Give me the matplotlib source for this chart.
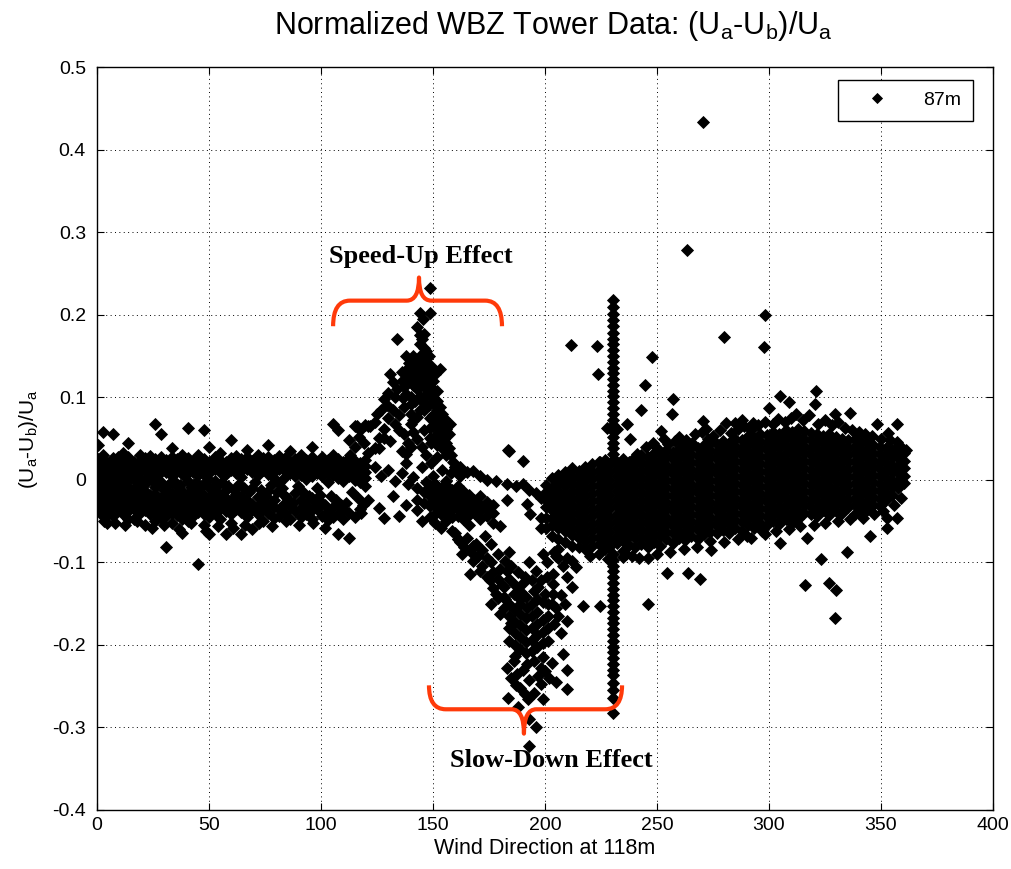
import matplotlib.pyplot as plt
import numpy as np
from matplotlib.path import Path
from matplotlib.patches import PathPatch

# (Ua-Ub)/Ua values below are stored in thousandths, grouped by wind direction (deg)

# 0-120 deg: two narrow bands just above and below zero
west_band = [
    (0.5, [42, 25, 18, 12, 5, -3, -12, -20, -28]),
    (2.5, [58, 30, 22, 15, 8, 0, -8, -16, -24, -35]),
    (4.6, [20, 13, 6, -2, -10, -18, -26, -38, -52]),
    (7.0, [55, 26, 19, 12, 4, -6, -14, -22, -30, -44]),
    (9.4, [28, 21, 14, 7, -12, -20, -28, -36]),
    (11.8, [33, 24, 16, 9, -8, -17, -25, -33, -41]),
    (14.0, [45, 27, 20, 12, 3, -14, -22, -30, -38, -47]),
    (16.5, [22, 15, 8, -10, -19, -27, -35, -48]),
    (19.0, [30, 23, 16, 9, 1, -16, -24, -32, -40]),
    (21.3, [26, 19, 12, -5, -13, -21, -29, -37, -55]),
    (23.8, [29, 22, 15, 7, -18, -26, -34, -42]),
    (26.0, [68, 25, 18, 11, 3, -9, -17, -25, -33, -41, -50]),
    (28.5, [55, 28, 21, 14, -3, -22, -30, -38, -46]),
    (31.0, [24, 17, 10, -12, -20, -28, -36, -44, -81]),
    (33.4, [38, 27, 20, 13, 5, -16, -24, -32, -40, -52]),
    (35.7, [25, 18, 11, -8, -19, -27, -35, -43]),
    (38.0, [30, 22, 15, 7, -14, -22, -30, -38, -47, -64]),
    (40.5, [63, 26, 19, 12, -2, -17, -25, -33, -41, -50]),
    (43.0, [23, 16, 9, -11, -20, -28, -36, -44]),
    (45.3, [30, 21, 14, 6, -15, -23, -31, -39, -102]),
    (47.7, [60, 25, 18, 11, -5, -18, -26, -34, -42, -55]),
    (50.0, [40, 22, 15, 8, -9, -21, -29, -37, -45, -66]),
    (52.5, [27, 20, 13, -2, -14, -24, -32, -40]),
    (55.0, [32, 24, 17, 10, -19, -27, -35, -48]),
    (57.4, [21, 14, 7, -12, -22, -30, -38, -66]),
    (59.8, [48, 26, 19, 12, -25, -33, -41, -52]),
    (62.0, [29, 23, 16, 8, -17, -28, -36]),
    (64.5, [25, 18, 11, 3, -20, -31, -39, -66]),
    (67.0, [36, 27, 20, 13, -24, -34, -45]),
    (69.3, [23, 16, 9, -10, -29, -37, -60]),
    (71.8, [30, 21, 14, 6, -21, -32, -42]),
    (74.0, [26, 19, 12, -27, -35, -50]),
    (76.5, [42, 28, 22, 15, 7, -14, -30, -40]),
    (79.0, [24, 17, 10, 2, -25, -33, -46]),
    (81.4, [29, 20, 13, -4, -36, -44]),
    (83.8, [26, 18, 11, 3, -20, -28, -40]),
    (86.0, [35, 22, 15, 8, -32, -47]),
    (88.5, [25, 19, 12, 4, -16, -38]),
    (91.0, [30, 21, 14, 6, -24, -34, -45]),
    (93.4, [24, 17, 10, 1, -30, -42]),
    (95.8, [40, 27, 19, 12, 4, -22, -37, -48]),
    (98.0, [22, 15, 8, -10, -35]),
    (100.5, [28, 20, 13, 5, -28, -44]),
    (103.0, [24, 17, 9, -3, -38, -49]),
    (105.4, [68, 30, 21, 14, 6, -33, -45]),
    (107.8, [60, 25, 18, 11, 2, -42, -66]),
    (110.0, [22, 15, 8, -1, -36, -48]),
    (112.5, [48, 26, 19, 12, 4, -40, -70]),
    (115.0, [65, 23, 16, 9, 0, -45]),
    (117.3, [60, 20, 13, 5, -3, -35]),
    (119.8, [66, 24, 17, 10, 2, -8]),
]
west_fill_pts = [
    (1.5, -40), (3.5, -45), (5.8, -30), (8.2, 0), (10.6, -2), (13, -6), (15.3, 2),
    (17.8, -3), (20, -8), (22.5, 3), (25, -2), (27.3, 6), (29.7, -12), (32, -5),
    (34.5, -2), (37, -6), (39.3, 4), (41.8, -9), (44, -3), (46.5, -8), (49, 2),
    (51.3, -12), (53.8, -6), (56, -3), (58.6, -8), (61, -12), (63.3, -5), (65.8, -10),
    (68, -15), (70.5, -3), (73, -12), (75.3, -20), (77.8, -6), (80.2, -15), (82.6, -10),
    (85, -22), (87.3, -28), (89.8, -8), (92, -15), (94.6, -20), (97, -26), (99.4, -18),
    (102, -30), (104.3, -20), (106.7, -25), (109, -30), (111.3, -28), (114, -15),
    (116.3, -22), (118.7, -30),
    (3, -50), (8, -52), (12.5, -55), (18, -50), (24.5, -58), (30, -55), (36.5, -60),
    (42, -52), (48.5, -62), (54, -56), (60.5, -58), (66, -55), (72.5, -52), (78, -56),
    (84.5, -50), (90, -55), (96.5, -52), (102, -58),
]

# 110-200 deg: the bump up to +0.23 and the loose points around zero
speedup_pts = [
    (113, 30), (115, 40), (117, 52), (119, 45), (121, 33), (122, 65), (124, 38),
    (126, 51), (126, 39), (128, 98), (128, 51), (129.5, 90), (131, 47), (131, 128),
    (132, 118), (134, 110), (134, 171), (136.6, 99), (138, 31), (140, 92), (140, 80),
    (140, 68), (144, 84), (144, 202), (144, 165), (145.5, 195), (146, 177), (147, 156),
    (148.7, 232), (148.7, 202), (148.7, 75), (148.7, 63), (148.7, 51), (151.8, 84),
    (151.8, 70), (151.8, 56), (151.8, 42), (151.8, 27), (153, 134), (157.6, 68),
    (138, 150), (139.5, 142), (141, 150), (140, 133), (142, 125), (143, 140), (144, 150),
    (145, 132), (146, 143), (147, 125), (141, 115), (143, 110), (145, 118), (148, 112),
    (150, 120), (149, 138), (151, 128), (139, 122), (137, 112), (136, 130), (147, 103),
    (150, 100), (152, 108), (138, 104), (140, 100), (142, 96), (145, 95), (148, 90),
    (146, 85), (143, 76), (141, 72), (150, 78), (153, 62), (155, 50), (154, 38),
    (156, 30), (150, 65), (149, 44), (116, 65), (121, 65), (132, 85), (135, 78),
    (137, 88), (146, 60), (152, 50), (155, 75), (153, 65), (155, 55), (156, 45),
    (157, 38), (158, 30), (159, 22), (160, 16), (161, 10), (162, 15),
    (139, 135), (141, 128), (143, 120), (145, 145), (147, 135), (149, 128), (146, 112),
    (144, 102), (142, 138), (140, 118), (138, 128), (136, 120), (144, 132), (147, 147),
    (146, 160), (144, 175), (143, 185), (145, 170), (148, 150), (150, 110), (152, 95),
    (151, 90), (149, 100), (153, 88), (154, 80), (152, 72), (156, 62), (157, 55),
    (154, 70), (133, 100), (130, 105), (127, 85), (125, 80), (124, 70), (130, 75),
    (133, 68), (128, 62), (135, 60), (137, 55), (139, 45), (141, 58), (143, 50),
    (145, 40), (147, 30), (149, 20), (140, 40), (136, 35),
    (124, 15), (127, 5), (130, 12), (133, -2), (136, 8), (138, 20), (139, -5),
    (141, 3), (143, -10), (145, 15), (147, -3), (150, 5), (152, -8), (154, 12),
    (156, -2), (158, 8), (160, 15), (162, 5), (165, 10), (168, 11), (171, 5),
    (174, 0), (178, -1), (183, -5), (187, -8), (190, -5), (193, -12), (196, -16),
    (198, -22), (183, -25), (192, -29), (193.3, -41), (198, -46), (198, -58),
    (180, -56), (184, 35), (190, 23), (183.5, 36),
    (148.7, -29), (143, -37), (145, -50), (135, -44), (128, -46), (126, -34),
    (143, -25), (138, -30), (132, -20), (121, -25), (118, -40),
]

# 146-180 deg: small cluster just below zero
shelf_band = [
    (146.0, [-15, -28]),
    (148.5, [-8, -20, -32, -45]),
    (151.0, [-5, -14, -23, -32, -41, -52]),
    (153.5, [-10, -18, -26, -34, -42, -58]),
    (156.0, [-6, -15, -24, -33, -42, -50]),
    (158.5, [-12, -20, -28, -36, -45, -62]),
    (161.0, [-8, -17, -26, -35, -44, -72]),
    (163.5, [-14, -22, -30, -38, -48]),
    (166.0, [-19, -27, -35, -43, -55]),
    (168.5, [-24, -32, -40, -80]),
    (171.0, [-20, -30, -38, -47]),
    (174.0, [-27, -36, -44]),
    (177.0, [-30, -40, -52]),
]

# 160-212 deg: the dip down to -0.3
slowdown_band = [
    (181.5, [-130, -142, -155]),
    (184.0, [-150, -165, -180, -195, -120]),
    (186.5, [-158, -172, -186, -200, -214, -128]),
    (189.0, [-145, -162, -176, -190, -205, -135]),
    (191.5, [-168, -182, -196, -210, -142]),
    (194.0, [-150, -165, -180, -194, -208]),
    (196.5, [-160, -175, -188, -202, -145]),
    (199.0, [-148, -170, -184, -198, -215]),
    (201.5, [-165, -180, -195, -150]),
]
slowdown_pts = [
    (161, -72), (164, -82), (168, -80), (166.5, -114), (168, -98), (172, -104),
    (176, -100), (180, -108), (183, -110), (184, -88), (175.4, -122), (177, -131),
    (179, -143), (180, -162), (186, -138), (189, -150), (192, -155), (185, -173),
    (198, -122), (201, -118), (203.6, -114), (203.6, -126), (203.6, -138), (210, -118),
    (205, -155), (210, -171), (207, -186), (208, -211), (183, -228), (187.5, -235),
    (192, -223), (198, -228), (193, -243), (198, -247), (210, -231), (210, -253),
    (183.5, -264), (192.5, -265), (189, -252), (193, -290), (193, -323), (196, -300),
    (185, -240), (188, -275), (195, -258), (200, -232), (202, -240),
    (206, -95), (208, -105), (212, -98), (204, -88), (201, -100), (199, -90),
    (196, -110), (193, -100), (190, -125), (195, -135),
    (160, -65), (162, -75), (165, -70), (163, -90), (167, -88), (170, -92), (169, -78),
    (172, -85), (174, -95), (171, -110), (174, -118), (177, -112), (179, -120),
    (181, -128), (178, -138), (182, -145), (176, -150), (173, -68), (176, -78),
    (179, -90), (182, -98), (185, -105), (188, -112), (191, -118), (194, -122),
    (197, -130), (200, -138), (203, -150), (206, -165), (204, -175), (207, -140),
    (212, -130), (209, -150), (186, -220), (190, -230), (195, -220), (197, -238),
    (203, -222), (205, -245), (187, -248), (191, -260), (199, -265),
]

# narrow column of points at 230 deg
spike_dir = 230.4
spike_vals = [218, 209, 201, 193, 186, 178, 171, 164, 157, 150, 143, 136, 129, 122,
              115, 108, 101, 94, 87, 80, 73, 66, 59, 52, 45, 38, 31, 24,
              -90, -97, -104, -111, -118, -125, -132, -139, -146, -153, -160, -167,
              -174, -181, -188, -195, -202, -209, -216, -223, -230, -237, -246,
              -255, -264, -282]

# 200-361 deg: wide band that slowly climbs back above zero
east_band = [
    (200.5, [-6, -15, -24, -33, -46, -58]),
    (203.2, [2, -10, -19, -28, -37, -46, -55, -68]),
    (206.0, [6, -4, -13, -22, -31, -40, -49, -58, -72, -84]),
    (209.1, [10, 1, -8, -17, -26, -35, -44, -53, -62, -75]),
    (212.0, [14, 5, -4, -13, -22, -31, -40, -49, -58, -67, -80]),
    (215.2, [11, 2, -7, -16, -25, -34, -43, -52, -61, -70, -82]),
    (218.0, [16, 7, -2, -11, -20, -29, -38, -47, -56, -65, -74, -84]),
    (221.1, [19, 10, 1, -8, -17, -26, -35, -44, -53, -62, -71, -80]),
    (224.0, [21, 12, 3, -6, -15, -24, -33, -42, -51, -60, -69, -78, -90]),
    (226.8, [24, 15, 6, -3, -12, -21, -30, -39, -48, -57, -66, -75, -84]),
    (228.5, [18, 9, 0, -9, -18, -27, -36, -45, -54, -63, -72, -81]),
    (232.0, [22, 13, 4, -5, -14, -23, -32, -41, -50, -59, -68, -77]),
    (234.6, [25, 16, 7, -2, -11, -20, -29, -38, -47, -56, -65, -74, -86]),
    (237.4, [22, 13, 4, -5, -14, -23, -32, -41, -50, -59, -68, -79]),
    (240.2, [28, 19, 10, 1, -8, -17, -26, -35, -44, -53, -62, -71, -82]),
    (243.0, [30, 21, 12, 3, -6, -15, -24, -33, -42, -51, -60, -69, -78]),
    (245.8, [27, 18, 9, 0, -9, -18, -27, -36, -45, -54, -63, -72, -81, -95]),
    (248.6, [33, 24, 15, 6, -3, -12, -21, -30, -39, -48, -57, -66, -75]),
    (251.4, [31, 22, 13, 4, -5, -14, -23, -32, -41, -50, -59, -68, -80]),
    (254.2, [36, 27, 18, 9, 0, -9, -18, -27, -36, -45, -54, -63, -72]),
    (257.0, [34, 25, 16, 7, -2, -11, -20, -29, -38, -47, -56, -65, -76]),
    (259.8, [37, 28, 19, 10, 1, -8, -17, -26, -35, -44, -53, -62, -71]),
    (262.6, [35, 26, 17, 8, -1, -10, -19, -28, -37, -46, -55, -64, -73]),
    (265.4, [40, 31, 22, 13, 4, -5, -14, -23, -32, -41, -50, -59, -68]),
    (268.2, [38, 29, 20, 11, 2, -7, -16, -25, -34, -43, -52, -61, -72]),
    (271.0, [42, 33, 24, 15, 6, -3, -12, -21, -30, -39, -48, -57, -66]),
    (273.8, [45, 36, 27, 18, 9, 0, -9, -18, -27, -36, -45, -54, -63, -74]),
    (276.6, [43, 34, 25, 16, 7, -2, -11, -20, -29, -38, -47, -56, -65]),
    (279.4, [47, 38, 29, 20, 11, 2, -7, -16, -25, -34, -43, -52, -61]),
    (282.2, [45, 36, 27, 18, 9, 0, -9, -18, -27, -36, -45, -54, -64]),
    (285.0, [50, 41, 32, 23, 14, 5, -4, -13, -22, -31, -40, -49, -58]),
    (287.8, [48, 39, 30, 21, 12, 3, -6, -15, -24, -33, -42, -51, -62]),
    (290.6, [53, 44, 35, 26, 17, 8, -1, -10, -19, -28, -37, -46, -55]),
    (293.4, [51, 42, 33, 24, 15, 6, -3, -12, -21, -30, -39, -48, -58]),
    (296.2, [56, 47, 38, 29, 20, 11, 2, -7, -16, -25, -34, -43, -52]),
    (299.0, [54, 45, 36, 27, 18, 9, 0, -9, -18, -27, -36, -45, -55]),
    (301.8, [58, 49, 40, 31, 22, 13, 4, -5, -14, -23, -32, -41, -50]),
    (304.6, [56, 47, 38, 29, 20, 11, 2, -7, -16, -25, -34, -43, -53]),
    (307.4, [60, 51, 42, 33, 24, 15, 6, -3, -12, -21, -30, -39, -48]),
    (310.2, [58, 49, 40, 31, 22, 13, 4, -5, -14, -23, -32, -41, -52]),
    (313.0, [61, 52, 43, 34, 25, 16, 7, -2, -11, -20, -29, -38, -47]),
    (315.8, [59, 50, 41, 32, 23, 14, 5, -4, -13, -22, -31, -40]),
    (318.6, [57, 48, 39, 30, 21, 12, 3, -6, -15, -24, -33, -42]),
    (321.4, [55, 46, 37, 28, 19, 10, 1, -8, -17, -26, -35, -44]),
    (324.2, [53, 44, 35, 26, 17, 8, -1, -10, -19, -28, -37]),
    (327.0, [56, 47, 38, 29, 20, 11, 2, -7, -16, -25, -34, -43]),
    (329.8, [52, 43, 34, 25, 16, 7, -2, -11, -20, -29, -38]),
    (332.6, [50, 41, 32, 23, 14, 5, -4, -13, -22, -31, -40]),
    (335.4, [48, 39, 30, 21, 12, 3, -6, -15, -24, -33]),
    (338.2, [50, 41, 32, 23, 14, 5, -4, -13, -22, -31, -42]),
    (341.0, [46, 37, 28, 19, 10, 1, -8, -17, -26, -35]),
    (343.8, [44, 35, 26, 17, 8, -1, -10, -19, -28, -37]),
    (346.6, [42, 33, 24, 15, 6, -3, -12, -21, -30]),
    (349.4, [40, 31, 22, 13, 4, -5, -14, -23, -32]),
    (352.2, [38, 29, 20, 11, 2, -7, -16, -25]),
    (355.0, [36, 27, 18, 9, 0, -9, -18]),
    (357.8, [35, 26, 17, 8, -1, -10]),
    (360.4, [32, 23, 14, 5, -4]),
]
east_edge_pts = [
    (245, 40), (248, 45), (250, 38), (253, 50), (255, 43), (260, 52), (263, 48),
    (267, 55), (270, 58), (275, 53), (278, 60), (283, 57), (286, 62), (289, 65),
    (292, 60), (295, 66), (298, 70), (302, 68), (304, 74), (307, 70), (310, 75),
    (312, 80), (315, 72), (318, 78), (322, 68), (325, 72), (328, 66), (331, 70),
    (334, 63), (337, 60), (340, 58), (343, 55), (346, 53), (350, 50), (354, 48),
    (358, 42), (361, 36),
    (205, -92), (210, -95), (220, -92), (228, -96), (236, -90), (242, -95),
    (250, -90), (256, -88), (262, -84), (268, -82), (274, -85), (280, -75),
    (286, -72), (292, -70), (298, -66), (303, -62), (309, -60), (314, -56),
    (320, -55), (325, -52), (331, -50), (336, -48), (342, -46), (347, -42),
    (351, -38), (356, -30), (359, -22),
]

# isolated points away from the main bands
outlier_pts = [
    (270.5, 433), (263.4, 278), (298, 200), (297.8, 161), (280, 173), (247.8, 149),
    (211.6, 163), (223, 162), (223.7, 128), (227.7, 63), (232, 62), (244.6, 115),
    (243, 85), (236.6, 68), (238, 50), (218.7, 11), (224.5, 21), (241, 31),
    (257, 98), (256.7, 80), (252, 59), (258, 47), (262, 44), (265.6, 44),
    (270.5, 71), (272, 62), (272.8, 50), (281, 69), (285, 69), (288, 73), (293, 69),
    (305, 102), (309, 94), (321, 107), (320.5, 92), (300, 87), (336, 81),
    (329.5, 80), (348, 68), (357, 68), (353, 57), (357, 46),
    (217, -153), (224.5, -153), (214, -106), (235, -94), (239, -92), (254.5, -113),
    (264, -113), (269, -120), (246, -150), (305, -77), (317, -71), (323, -96),
    (335, -88), (345, -68), (352.7, -46), (352.7, -58), (357, -46), (316, -128),
    (330, -134), (329.5, -167), (327, -125), (290, -68), (297, -62),
]


def unpack_columns(cols):
    xs, ys = [], []
    for d, vals in cols:
        for v in vals:
            xs.append(d)
            ys.append(v / 1000)
    return xs, ys


def unpack_points(pts):
    return [p[0] for p in pts], [p[1] / 1000 for p in pts]


wind_dir, norm_diff = [], []
for cols in (west_band, shelf_band, slowdown_band, east_band):
    xs, ys = unpack_columns(cols)
    wind_dir += xs
    norm_diff += ys
for pts in (west_fill_pts, speedup_pts, slowdown_pts, east_edge_pts, outlier_pts):
    xs, ys = unpack_points(pts)
    wind_dir += xs
    norm_diff += ys
wind_dir += [spike_dir] * len(spike_vals)
norm_diff += [v / 1000 for v in spike_vals]

plt.rcParams['font.family'] = 'Liberation Sans'
plt.rcParams['mathtext.fontset'] = 'custom'
plt.rcParams['mathtext.rm'] = 'Liberation Sans'

fig = plt.figure(figsize=(10.11, 8.69), dpi=100)
ax = fig.add_axes([97 / 1011, 59 / 869, 896 / 1011, 743 / 869])

ax.plot(wind_dir, norm_diff, 'D', color='k', ms=6.0, mew=0.6, label='87m', zorder=3)

ax.set_xlim(0, 400)
ax.set_ylim(-0.4, 0.5)
ax.set_xticks(np.arange(0, 401, 50))
yt = [-0.4, -0.3, -0.2, -0.1, 0, 0.1, 0.2, 0.3, 0.4, 0.5]
ax.set_yticks(yt)
ax.set_yticklabels(['-0.4', '-0.3', '-0.2', '-0.1', '0', '0.1', '0.2', '0.3', '0.4', '0.5'])
ax.grid(True, color='k', linestyle=(0, (1, 3.5)), linewidth=0.7)
ax.set_axisbelow(True)
ax.tick_params(direction='in', length=5, width=0.8, top=True, right=True, labelsize=14)
ax.tick_params(axis='y', pad=8)
ax.tick_params(axis='x', pad=5)
for s in ax.spines.values():
    s.set_linewidth(1.0)

ax.set_xlabel('Wind Direction at 118m', fontsize=15.5, labelpad=3)
ax.set_ylabel(r'(U$_\mathregular{a}$-U$_\mathregular{b}$)/U$_\mathregular{a}$', fontsize=15, labelpad=9)
fig.text(553 / 1011, 1 - 34 / 869,
         r'Normalized WBZ Tower Data: (U$_\mathregular{a}$-U$_\mathregular{b}$)/U$_\mathregular{a}$',
         ha='center', va='baseline', fontsize=22)

leg = ax.legend(loc='upper right', bbox_to_anchor=(0.9777, 0.9825), borderaxespad=0,
                fancybox=False, edgecolor='k', framealpha=1, fontsize=14,
                handlelength=2.8, handletextpad=1.0, borderpad=0.6, numpoints=1,
                markerscale=0.8)
leg.get_frame().set_linewidth(1.0)


def curly_brace(x0, x1, xt, yb, ytip, yend, r_end, r_tip):
    verts = [(x0, yend), (x0, yb), (x0 + r_end, yb),
             (xt - r_tip, yb), (xt, yb), (xt, ytip),
             (xt, yb), (xt + r_tip, yb),
             (x1 - r_end, yb), (x1, yb), (x1, yend)]
    codes = [Path.MOVETO, Path.CURVE3, Path.CURVE3, Path.LINETO, Path.CURVE3, Path.CURVE3,
             Path.CURVE3, Path.CURVE3, Path.LINETO, Path.CURVE3, Path.CURVE3]
    ax.add_patch(PathPatch(Path(verts, codes), facecolor='none', edgecolor='#ff3a0a',
                           lw=3, capstyle='butt', joinstyle='round', zorder=5))


curly_brace(105.4, 180.8, 143.75, 0.217, 0.245, 0.186, 7.5, 5.5)
curly_brace(148.2, 234.4, 190.6, -0.278, -0.3075, -0.249, 7.5, 5.5)

ax.text(144.6, 0.27, 'Speed-Up Effect', ha='center', va='center', fontsize=19,
        fontweight='bold', family='Liberation Serif', zorder=6)
ax.text(202.7, -0.34, 'Slow-Down Effect', ha='center', va='center', fontsize=19,
        fontweight='bold', family='Liberation Serif', zorder=6)

fig.savefig('out.png', dpi=100)
